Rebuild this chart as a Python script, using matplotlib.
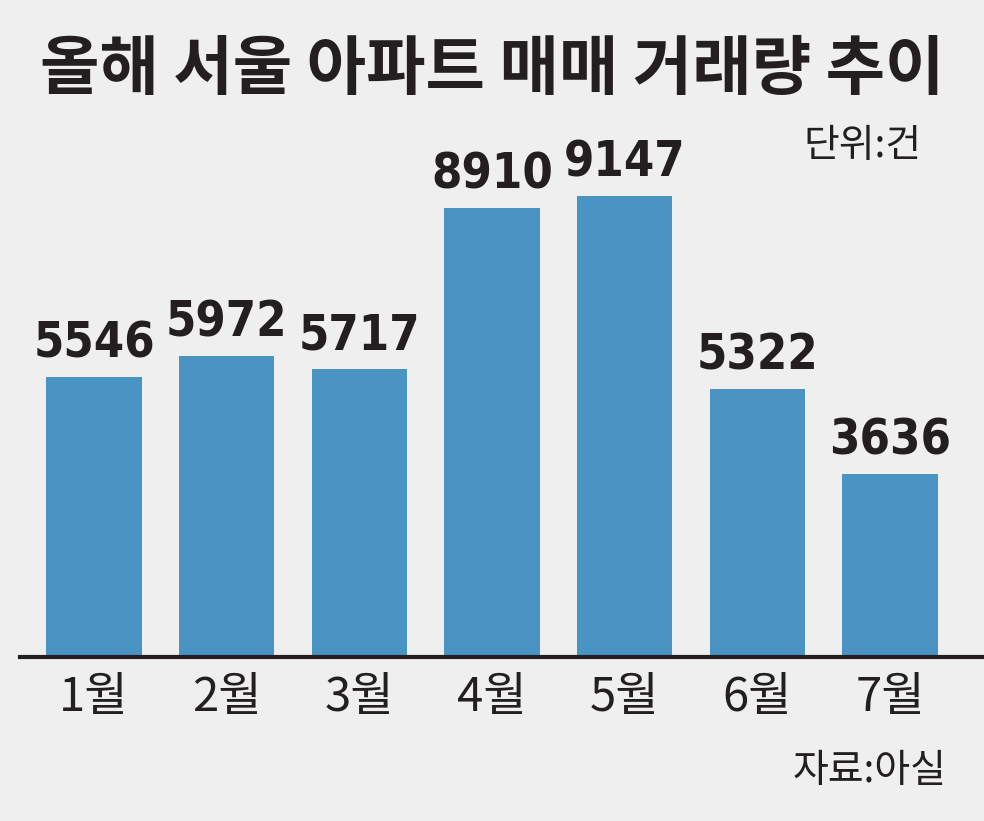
import matplotlib
matplotlib.use("Agg")
import matplotlib.pyplot as plt

months = ["1월", "2월", "3월", "4월", "5월", "6월", "7월"]
deals = [5546, 5972, 5717, 8910, 9147, 5322, 3636]

title = "올해 서울 아파트 매매 거래량 추이"
unit_note = "단위:건"
source_note = "자료:아실"

BG = "#efefef"
BAR = "#4a94c4"
INK = "#231f20"
KR = ["Noto Sans CJK KR", "DejaVu Sans"]
NUM = ["DejaVu Sans"]


def main() -> None:
  fig = plt.figure(figsize=(9.84, 8.21), dpi=100, facecolor=BG)

  # axes: baseline at y=657px, bars scaled so 9147 -> 461px
  ymax = 10500
  px_per_unit = 461 / 9147
  h_px = ymax * px_per_unit
  bottom = (821 - 657) / 821
  ax = fig.add_axes([20 / 984, bottom, 964 / 984, h_px / 821])
  ax.set_facecolor(BG)

  x = list(range(len(months)))
  ax.bar(x, deals, width=0.72, color=BAR, zorder=2)
  ax.set_xlim(-0.558, 6.708)
  ax.set_ylim(0, ymax)

  for xi, v in zip(x, deals):
    ax.annotate(f"{v}", (xi, v), xytext=(0, 7), textcoords="offset points",
                ha="center", va="bottom", fontsize=35, fontweight="bold",
                fontstretch="condensed", family=NUM, color=INK)

  for s in ["top", "right", "left"]:
    ax.spines[s].set_visible(False)
  ax.spines["bottom"].set_linewidth(3)
  ax.spines["bottom"].set_color(INK)
  ax.set_yticks([])
  ax.set_xticks(x)
  ax.set_xticklabels(months, fontsize=34, family=KR, color=INK)
  ax.tick_params(axis="x", length=0, pad=12)

  fig.text(0.5, 1 - 70 / 821, title, ha="center", va="center",
           fontsize=46.5, fontweight="bold", family=KR, color=INK)
  fig.text(922 / 984, 1 - 146 / 821, unit_note, ha="right", va="center",
           fontsize=28, family=KR, color=INK)
  fig.text(946 / 984, 1 - 771 / 821, source_note, ha="right", va="center",
           fontsize=28, family=KR, color=INK)

  plt.savefig("out.png", dpi=100, facecolor=BG)
  plt.close()


if __name__ == "__main__":
  main()
